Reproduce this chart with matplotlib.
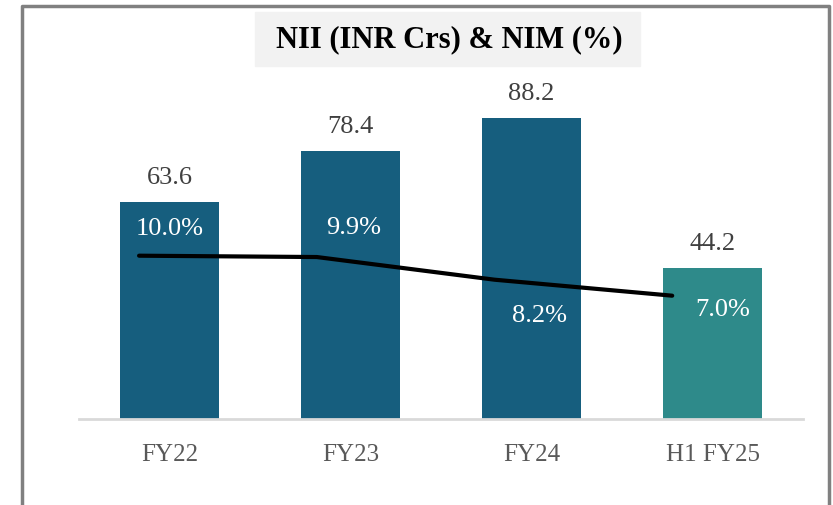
import matplotlib.pyplot as plt
from matplotlib.patches import Rectangle

categories = ["FY22", "FY23", "FY24", "H1 FY25"]
nii = [63.6, 78.4, 88.2, 44.2]
nim = [10.0, 9.9, 8.2, 7.0]
bar_colors = ["#165E7E", "#165E7E", "#165E7E", "#2E8A8A"]
# label offsets (pixels) of the NIM labels from the line points
nim_offsets = [(31, 27), (37, 29), (45, -36), (50, -14)]

plt.rcParams["font.family"] = ["Liberation Serif", "DejaVu Serif"]

W, H = 833, 505
fig = plt.figure(figsize=(W / 100, H / 100), dpi=100)

def px_rect(x0, y0, x1, y1):
    return [x0 / W, 1 - y1 / H, (x1 - x0) / W, (y1 - y0) / H]

ax = fig.add_axes(px_rect(79, 80, 803, 419))
x = list(range(len(categories)))
ax.bar(x, nii, width=0.55, color=bar_colors, zorder=2)
ax.set_xlim(-0.5, 3.5)
ax.set_ylim(0, 339 / 3.413)
for xi, v in zip(x, nii):
    ax.annotate(f"{v:.1f}", (xi, v), xytext=(0, 24), textcoords="offset pixels",
                ha="center", va="center", fontsize=19, color="#404040")
ax.set_xticks(x)
ax.set_xticklabels(categories, fontsize=18, color="#595959")
ax.tick_params(axis="x", length=0, pad=18)
ax.set_yticks([])
for s in ["top", "right", "left"]:
    ax.spines[s].set_visible(False)
ax.spines["bottom"].set_color("#D9D9D9")
ax.spines["bottom"].set_linewidth(2)
ax.patch.set_alpha(0)

ax2 = fig.add_axes(px_rect(79, 80, 803, 419))
ax2.plot(x, nim, color="black", lw=3, solid_capstyle="round", zorder=3)
ax2.set_xlim(-0.338, 3.736)
ax2.set_ylim(-2.25, 23.18)
for xi, v, (dx, dy) in zip(x, nim, nim_offsets):
    ax2.annotate(f"{v:.1f}%", (xi, v), xytext=(dx, dy), textcoords="offset pixels",
                 ha="center", va="center", fontsize=19, color="white")
ax2.axis("off")

# title box
fig.patches.append(Rectangle((255 / W, 1 - 66 / H), 385 / W, 54 / H,
                             transform=fig.transFigure, color="#F2F2F2", zorder=0))
fig.text(449 / W, 1 - 40 / H, "NII (INR Crs) & NIM (%)", ha="center", va="center",
         fontsize=22, fontweight="bold", color="black")

# outer frame (open at the bottom)
fig.add_artist(plt.Line2D([22 / W, 22 / W, 829 / W, 829 / W],
                          [0, 1 - 6 / H, 1 - 6 / H, 0],
                          transform=fig.transFigure, color="#808080", lw=2.5))

fig.savefig("out.png", dpi=100)
